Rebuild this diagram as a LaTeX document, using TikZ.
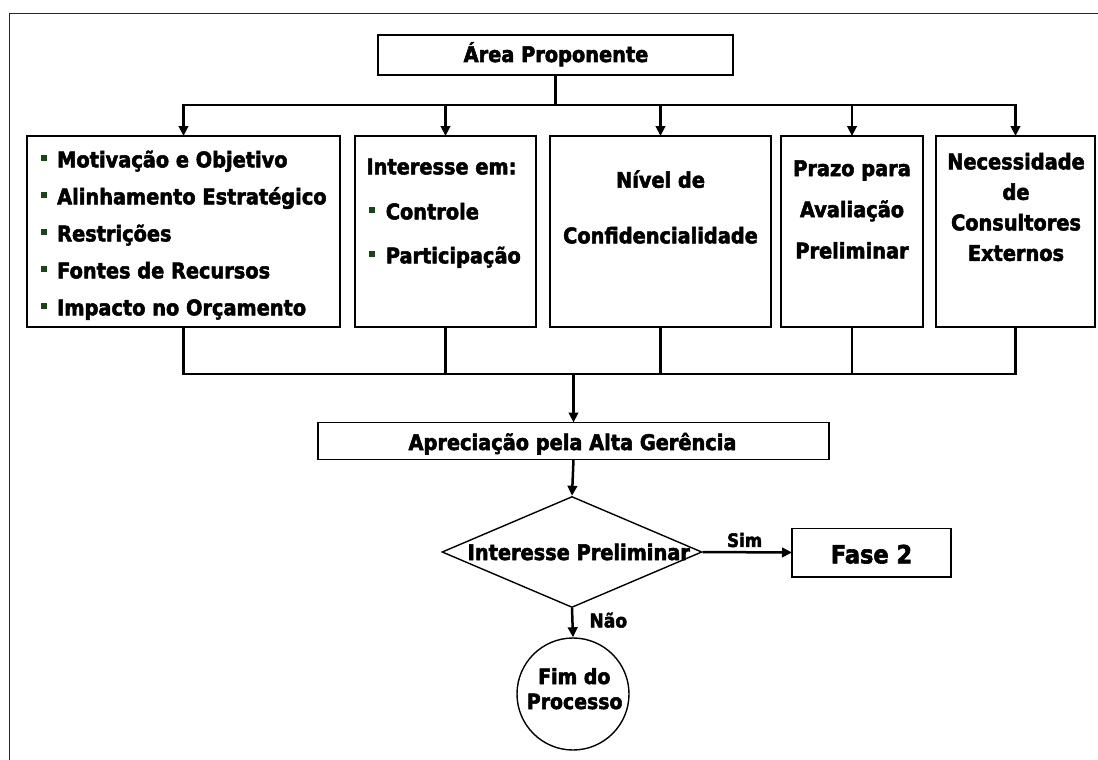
\documentclass[tikz,border=0pt]{standalone}
\usepackage{fontspec}
\setmainfont{DejaVu Sans}[BoldFeatures={FakeStretch=0.9, FakeBold=2.5}]
\usetikzlibrary{arrows.meta,shapes.geometric}
\definecolor{bulgreen}{RGB}{22,72,22}
\newcommand{\bul}{\textcolor{bulgreen}{\rule[6.2pt]{6pt}{6pt}}\hspace{10.5pt}}
\begin{document}
\begin{tikzpicture}[x=1pt,y=-1pt,
  box/.style={draw, line width=1.5pt, rectangle, inner sep=0pt, outer sep=0pt},
  txt/.style={inner sep=0pt, outer sep=0pt, font=\fontsize{21.5}{25}\selectfont\bfseries},
  small/.style={inner sep=0pt, outer sep=0pt, font=\fontsize{18.5}{22}\selectfont\bfseries},
  conn/.style={line width=2.5pt},
  arr/.style={line width=2.5pt, -{Triangle[length=10pt,width=9.5pt]}},
]
\useasboundingbox (0,0) rectangle (1098,760);
% page frame
\draw[line width=1.5pt, black!85] (9.5,760) -- (9.5,13.5) -- (1098,13.5);

% boxes
\node[box, minimum width=355pt, minimum height=40pt] (area) at (555.5,55) {};
\node[box, minimum width=313pt, minimum height=191pt] (b1) at (183.5,231.5) {};
\node[box, minimum width=181pt, minimum height=191pt] (b2) at (445.5,231.5) {};
\node[box, minimum width=221pt, minimum height=191pt] (b3) at (660.5,231.5) {};
\node[box, minimum width=142pt, minimum height=191pt] (b4) at (852,231.5) {};
\node[box, minimum width=159pt, minimum height=191pt] (b5) at (1015.5,231.5) {};
\node[box, minimum width=511pt, minimum height=37pt] (apr) at (573.5,441) {};
\node[draw, diamond, line width=1.4pt, inner sep=0pt, aspect=2.34,
      minimum width=260pt, minimum height=111pt] (dia) at (572,552) {};
\node[box, minimum width=159pt, minimum height=48.5pt] (fase) at (871.5,552.5) {};
\node[draw, circle, line width=1.4pt, inner sep=0pt, minimum size=112pt] (fim) at (573,694) {};

% texts
\node[txt, anchor=base] (areat) at (556,62) {Área Proponente};
\foreach \t [count=\i] in {Motivação e Objetivo, Alinhamento Estratégico, Restrições, Fontes de Recursos, Impacto no Orçamento}
  \node[txt, anchor=base west] (b1t\i) at (40.7,{167.3+37*(\i-1)}) {\bul\t};
\node[txt, anchor=base west] (b2t0) at (366.5,174.3) {Interesse em:};
\node[txt, anchor=base west] (b2t1) at (369.3,219.3) {\bul Controle};
\node[txt, anchor=base west] (b2t2) at (369.3,263.3) {\bul Participação};
\node[txt, anchor=base] (b3t1) at (660.5,187.7) {Nível de};
\node[txt, anchor=base] (b3t2) at (660.5,243.3) {Confidencialidade};
\foreach \t [count=\i] in {Prazo para, Avaliação, Preliminar}
  \node[txt, anchor=base] (b4t\i) at (852,{176+41.2*(\i-1)}) {\t};
\foreach \t [count=\i] in {Necessidade, de, Consultores, Externos}
  \node[txt, anchor=base] (b5t\i) at (1016,{169.3+30.5*(\i-1)}) {\t};
\node[txt, anchor=base] (aprt) at (572.5,450) {Apreciação pela Alta Gerência};
\node[txt, anchor=base] (diat) at (578.8,560) {Interesse Preliminar};
\node[inner sep=0pt, font=\fontsize{25}{30}\selectfont\bfseries, anchor=base] (faset) at (871.5,563.3) {Fase 2};
\node[txt, font=\fontsize{21}{25}\selectfont\bfseries, anchor=base] (fimt1) at (574.3,684) {Fim do};
\node[txt, font=\fontsize{21}{25}\selectfont\bfseries, anchor=base] (fimt2) at (574.7,709) {Processo};

% distribution bus from the top box
\draw[conn] (area.south) -- ++(0,30) coordinate (j0);
\draw[conn, line cap=rect] (b1.north |- j0) -- (b5.north |- j0);
\foreach \b in {b1,b2,b3,b4,b5}
  \draw[arr] (\b.north |- j0) -- (\b.north);

% collecting bus into the review box
\path (apr.north) ++(0,-48.7) coordinate (j1);
\draw[conn] (b1.south) |- (b5.south |- j1) -- (b5.south);
\foreach \b in {b2,b3,b4}
  \draw[conn] (\b.south) -- (\b.south |- j1);
\draw[arr] (j1) -- (apr.north);

% decision
\draw[arr] (apr.south) -- (dia.north);
\draw[arr] (dia.east) -- (fase.west)
  node[small, pos=0.47, anchor=base, yshift=5.3pt] (sim) {Sim};
\draw[arr] (dia.south) -- (fim.north)
  node[small, font=\fontsize{19}{22}\selectfont\bfseries, pos=0.5, anchor=base west, xshift=17pt, yshift=-4.7pt] (nao) {Não};
\end{tikzpicture}
\end{document}
